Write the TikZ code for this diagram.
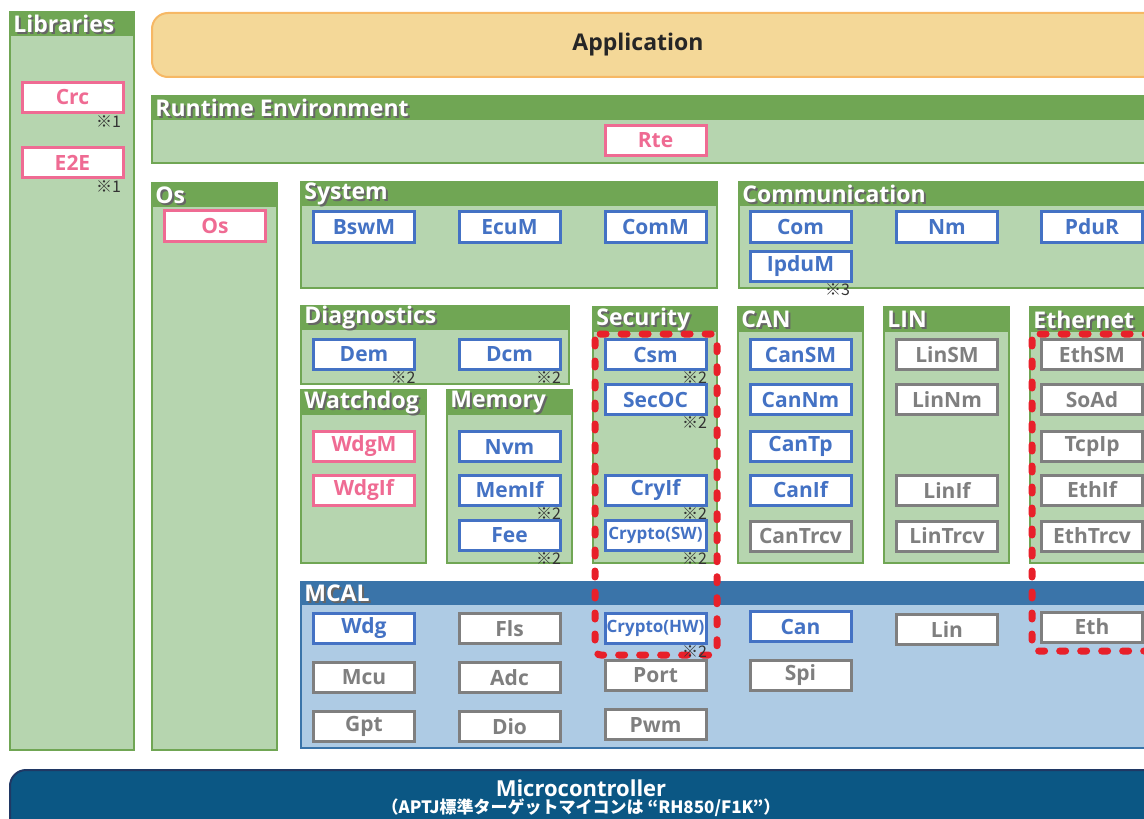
\documentclass[tikz,border=0pt]{standalone}
\usepackage{fontspec}
\setmainfont{Open Sans}
\newfontfamily\jp{Noto Sans CJK JP}
\usepackage{xcolor}
\usepackage{tikz}
\definecolor{grpdark}{HTML}{70A654}
\definecolor{grplight}{HTML}{B6D5AF}
\definecolor{mcaldark}{HTML}{3A74A9}
\definecolor{mcallight}{HTML}{AECBE4}
\definecolor{modpink}{HTML}{EF6B93}
\definecolor{modblue}{HTML}{4472C4}
\definecolor{modgray}{HTML}{7F7F7F}
\definecolor{appfill}{HTML}{F4D898}
\definecolor{appline}{HTML}{F6B865}
\definecolor{mcufill}{HTML}{0B5784}
\definecolor{mculine}{HTML}{203864}
\definecolor{secred}{HTML}{E8202A}
\tikzstyle{mod}=[draw,line width=1.5pt,fill=white,minimum width=50.5pt,minimum height=15pt,inner sep=0pt,font=\fontsize{10.5}{10.5}\selectfont\bfseries]
\tikzstyle{pk}=[mod,draw=modpink,text=modpink]
\tikzstyle{bl}=[mod,draw=modblue,text=modblue]
\tikzstyle{gy}=[mod,draw=modgray,text=modgray]
\tikzstyle{small}=[font=\fontsize{8.5}{8.5}\selectfont\bfseries]
\tikzstyle{note}=[anchor=east,inner sep=0pt,text=black!80,font=\jp\fontsize{8}{8}\selectfont]
\tikzstyle{title}=[anchor=west,inner sep=0pt,text=white,font=\fontsize{11.5}{11.5}\selectfont\bfseries]
\tikzstyle{shade}=[title,text=black!60]
\tikzstyle{grp body}=[fill=grplight,draw=grpdark,line width=1pt]
\tikzstyle{grp head}=[fill=grpdark]
\tikzstyle{mcal body}=[fill=mcallight,draw=mcaldark,line width=1pt]
\tikzstyle{mcal head}=[fill=mcaldark]
\tikzstyle{sec}=[draw=secred,line width=3.5pt,line cap=round,dash pattern=on 3pt off 7.5pt,rounded corners=3pt]
\newcommand\layer[8][grp]{%
  \draw[#1 body] (#3,#4) rectangle (#5,#6);
  \fill[#1 head] (#3,#4) rectangle (#5,#7);
  \node[shade] at ({#3+5},{(#4+#7)/2+2}) {#8};
  \node[title] (#2) at ({#3+3},{(#4+#7)/2}) {#8};}

\begin{document}
\begin{tikzpicture}[x=0.5pt,y=-0.5pt]
	\useasboundingbox (0,0) rectangle (1144,818);
	\clip (0,0) rectangle (1144,818);
	\draw[fill=appfill,draw=appline,line width=1pt,rounded corners=8pt] (152,13) rectangle (1180,77);
	\node[text=black!85,font=\fontsize{11.5}{11.5}\selectfont\bfseries] (app) at (638,45) {Application};
	\layer{lib}{10}{12}{134}{750}{36}{Libraries}
	\layer{rte}{152}{96}{1160}{163}{120}{Runtime Environment}
	\layer{os}{152}{183}{277}{750}{207}{Os}
	\layer{sys}{301}{182}{717}{288}{206}{System}
	\layer{comm}{739}{182}{1160}{288}{206}{Communication}
	\layer{diag}{301}{306}{569}{384}{330}{Diagnostics}
	\layer{secy}{593}{307}{717}{563}{332}{Security}
	\layer{can}{738}{307}{863}{563}{332}{CAN}
	\layer{lin}{884}{307}{1009}{563}{332}{LIN}
	\layer{eth}{1030}{307}{1160}{563}{332}{Ethernet}
	\layer{wdog}{301}{390}{426}{563}{415}{Watchdog}
	\layer{mem}{447}{390}{572}{563}{415}{Memory}
	\layer[mcal]{mcal}{301}{582}{1160}{748}{605}{MCAL}
	\node[pk] (crc) at (72.5,97.5) {Crc};
	\node[pk] (e2e) at (72.5,162.5) {E2E};
	\node[pk] (rtemod) at (655.5,140.5) {Rte};
	\node[pk] (osmod) at (215,226) {Os};
	\node[bl] (bswm) at (364,227) {BswM};
	\node[bl] (ecum) at (509.5,227) {EcuM};
	\node[bl] (comm-m) at (655.5,227) {ComM};
	\node[bl] (com) at (800.5,227) {Com};
	\node[bl] (nm) at (947,227) {Nm};
	\node[bl] (pdur) at (1092,227) {PduR};
	\node[bl] (ipdum) at (800.5,266.5) {IpduM};
	\node[bl] (dem) at (364,354) {Dem};
	\node[bl] (dcm) at (509.5,354) {Dcm};
	\node[pk] (wdgm) at (364,446.5) {WdgM};
	\node[pk] (wdgif) at (364,490) {WdgIf};
	\node[bl] (nvm) at (509.5,446.5) {Nvm};
	\node[bl] (memif) at (509.5,490) {MemIf};
	\node[bl] (fee) at (509.5,535) {Fee};
	\node[bl] (csm) at (655.5,354.5) {Csm};
	\node[bl] (secoc) at (655.5,399.5) {SecOC};
	\node[bl] (cryif) at (655.5,490) {CryIf};
	\node[bl,small] (cryptosw) at (655.5,535) {Crypto(SW)};
	\node[bl] (cansm) at (800.5,354.5) {CanSM};
	\node[bl] (cannm) at (800.5,399.5) {CanNm};
	\node[bl] (cantp) at (800.5,446.5) {CanTp};
	\node[bl] (canif) at (800.5,490) {CanIf};
	\node[gy] (cantrcv) at (800.5,536) {CanTrcv};
	\node[gy] (linsm) at (947,354.5) {LinSM};
	\node[gy] (linnm) at (947,399.5) {LinNm};
	\node[gy] (linif) at (947,490) {LinIf};
	\node[gy] (lintrcv) at (947,536) {LinTrcv};
	\node[gy] (ethsm) at (1092,354.5) {EthSM};
	\node[gy] (soad) at (1092,399.5) {SoAd};
	\node[gy] (tcpip) at (1092,446.5) {TcpIp};
	\node[gy] (ethif) at (1092,490) {EthIf};
	\node[gy] (ethtrcv) at (1092,536) {EthTrcv};
	\node[bl] (wdg) at (364,628.5) {Wdg};
	\node[gy] (mcu) at (364,677.5) {Mcu};
	\node[gy] (gpt) at (364,726.5) {Gpt};
	\node[gy] (fls) at (509.5,628.5) {Fls};
	\node[gy] (adc) at (509.5,677.5) {Adc};
	\node[gy] (dio) at (509.5,726.5) {Dio};
	\node[bl,small] (cryptohw) at (655.5,628.5) {Crypto(HW)};
	\node[gy] (port) at (655.5,675.5) {Port};
	\node[gy] (pwm) at (655.5,724.5) {Pwm};
	\node[bl] (candrv) at (800.5,626.5) {Can};
	\node[gy] (spi) at (800.5,675.5) {Spi};
	\node[gy] (lindrv) at (947,629.5) {Lin};
	\node[gy] (ethdrv) at (1092,627) {Eth};
	\draw[sec] (595,334) rectangle (717,655);
	\draw[sec] (1032,334) rectangle (1170,651);
	\node[note] (crc-n) at ([xshift=-1.5pt,yshift=-4pt]crc.south east) {※1};
	\node[note] (e2e-n) at ([xshift=-1.5pt,yshift=-4pt]e2e.south east) {※1};
	\node[note] (ipdum-n) at ([xshift=-1pt,yshift=-3.5pt]ipdum.south east) {※3};
	\node[note] (dem-n) at ([yshift=-3.5pt]dem.south east) {※2};
	\node[note] (dcm-n) at ([yshift=-3.5pt]dcm.south east) {※2};
	\node[note] (memif-n) at ([yshift=-3.5pt]memif.south east) {※2};
	\node[note] (fee-n) at ([yshift=-3.5pt]fee.south east) {※2};
	\node[note] (csm-n) at ([yshift=-3.5pt]csm.south east) {※2};
	\node[note] (secoc-n) at ([yshift=-3.5pt]secoc.south east) {※2};
	\node[note] (cryif-n) at ([yshift=-3.5pt]cryif.south east) {※2};
	\node[note] (cryptosw-n) at ([yshift=-3.5pt]cryptosw.south east) {※2};
	\node[note] (cryptohw-n) at ([yshift=-3.5pt]cryptohw.south east) {※2};
	\draw[fill=mcufill,draw=mculine,line width=1pt,rounded corners=8pt] (10,770) rectangle (1180,860);
	\node[text=white,font=\fontsize{11}{11}\selectfont\bfseries] (mcutitle) at (581,788) {Microcontroller};
	\node[text=white,font=\jp\bfseries\fontsize{8.5}{8.5}\selectfont] (mcunote) at (581,808) {（APTJ標準ターゲットマイコンは “RH850/F1K”）};
\end{tikzpicture}
\end{document}
